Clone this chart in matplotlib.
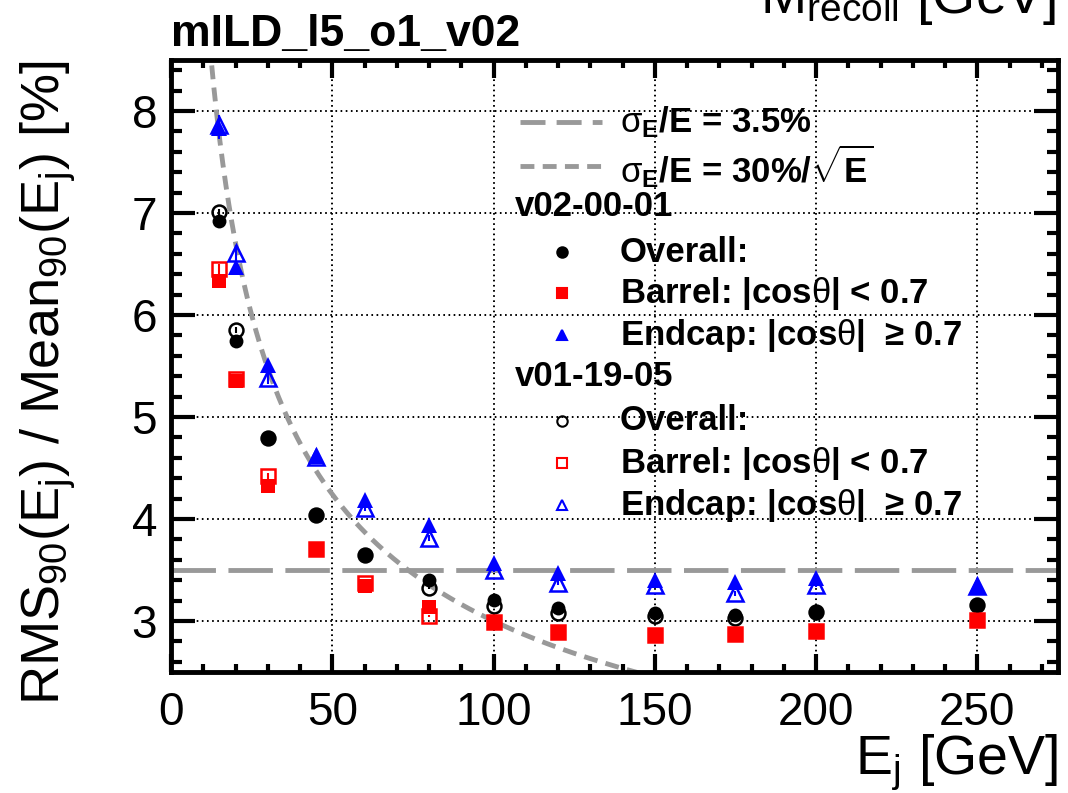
import numpy as np
import matplotlib
matplotlib.use("Agg")
import matplotlib.pyplot as plt

plt.rcParams['font.family'] = ['Liberation Sans', 'DejaVu Sans']
plt.rcParams['mathtext.fontset'] = 'custom'
plt.rcParams['mathtext.rm'] = 'Liberation Sans'
plt.rcParams['mathtext.it'] = 'Liberation Sans:italic'
plt.rcParams['mathtext.bf'] = 'Liberation Sans:bold'
plt.rcParams['lines.scale_dashes'] = False

# jet energies [GeV]
energy = [15, 20, 30, 45, 60, 80, 100, 120, 150, 175, 200, 250]

# RMS90/Mean90 [%], v02-00-01
v02_overall = [6.92, 5.75, 4.79, 4.04, 3.65, 3.40, 3.21, 3.13, 3.08, 3.06, 3.09, 3.16]
v02_barrel = [6.33, 5.35, 4.32, 3.71, 3.34, 3.14, 2.99, 2.89, 2.86, 2.87, 2.90, 3.00]
v02_endcap = [7.83, 6.47, 5.51, 4.62, 4.19, 3.94, 3.57, 3.47, 3.40, 3.38, 3.42, 3.34]

# RMS90/Mean90 [%], v01-19-05
v01_overall = [7.01, 5.85, 4.79, 4.04, 3.65, 3.32, 3.15, 3.08, 3.05, 3.03, 3.09, 3.16]
v01_barrel = [6.45, 5.37, 4.42, 3.71, 3.37, 3.05, 2.99, 2.89, 2.86, 2.87, 2.90, 3.01]
v01_endcap = [7.86, 6.61, 5.38, 4.61, 4.11, 3.81, 3.50, 3.37, 3.35, 3.27, 3.35, 3.34]

# small statistical errors (visible only at low energy)
err_overall = [0.03, 0.03, 0.02, 0.02, 0.01, 0.01, 0.01, 0.01, 0.01, 0.01, 0.01, 0.01]
err_barrel = [0.05, 0.04, 0.03, 0.02, 0.02, 0.01, 0.01, 0.01, 0.01, 0.01, 0.01, 0.01]
err_endcap = [0.10, 0.08, 0.06, 0.04, 0.03, 0.03, 0.02, 0.02, 0.02, 0.02, 0.02, 0.02]

constant_term = 3.5      # sigma_E/E = 3.5%
stochastic_term = 30.0   # sigma_E/E = 30%/sqrt(E)

W, H = 1068, 793
fig = plt.figure(figsize=(W / 100, H / 100), dpi=100)
ax_l, ax_r, ax_t, ax_b = 171, 1058, 60, 672
ax = fig.add_axes([ax_l / W, (H - ax_b) / H, (ax_r - ax_l) / W, (ax_b - ax_t) / H])

ax.set_xlim(0, 275)
ax.set_ylim(2.5, 8.5)

gray = '#999999'
ax.axhline(constant_term, color=gray, lw=3.5, dashes=(32, 9), zorder=2)
e_curve = np.linspace(10, 150, 300)
ax.plot(e_curve, stochastic_term / np.sqrt(e_curve), color=gray, lw=3.5,
        dashes=(10, 6), zorder=2)

ms_c, ms_s, ms_t = 10, 9.5, 11
# older version: open markers
ax.errorbar(energy, v01_overall, yerr=err_overall, fmt='o', ms=ms_c, mfc='none',
            mec='black', mew=1.8, ecolor='black', elinewidth=1.5, capsize=0, zorder=3)
ax.errorbar(energy, v01_barrel, yerr=err_barrel, fmt='s', ms=ms_s, mfc='none',
            mec='red', mew=1.8, ecolor='red', elinewidth=1.5, capsize=0, zorder=3)
ax.errorbar(energy, v01_endcap, yerr=err_endcap, fmt='^', ms=ms_t, mfc='none',
            mec='blue', mew=1.8, ecolor='blue', elinewidth=1.5, capsize=0, zorder=3)
# new version: filled markers
ax.errorbar(energy, v02_overall, yerr=err_overall, fmt='o', ms=ms_c, color='black',
            mew=0, elinewidth=1.5, capsize=0, zorder=4)
ax.errorbar(energy, v02_barrel, yerr=err_barrel, fmt='s', ms=ms_s, color='red',
            mew=0, elinewidth=1.5, capsize=0, zorder=4)
ax.errorbar(energy, v02_endcap, yerr=err_endcap, fmt='^', ms=ms_t, color='blue',
            mew=0, elinewidth=1.5, capsize=0, zorder=4)

# axes style, ROOT like
ax.set_xticks([0, 50, 100, 150, 200, 250])
ax.set_xticks(np.arange(0, 276, 10), minor=True)
ax.set_yticks([3, 4, 5, 6, 7, 8])
ax.set_yticks(np.arange(2.6, 8.5, 0.2), minor=True)
ax.grid(True, which='major', color='black', ls=(0, (1.2, 2.5)), lw=1.4, zorder=1)
for sp in ax.spines.values():
    sp.set_linewidth(3.5)
ax.tick_params(which='both', direction='in', top=True, right=True, width=3,
               labelsize=33)
ax.tick_params(axis='x', which='major', length=13, pad=14)
ax.tick_params(axis='x', which='minor', length=6)
ax.tick_params(axis='y', which='major', length=17, pad=10)
ax.tick_params(axis='y', which='minor', length=8)

# legend drawn by hand in axes coordinates
def fx(px):
    return (px - ax_l) / (ax_r - ax_l)

def fy(py):
    return (ax_b - py) / (ax_b - ax_t)

tr = ax.transAxes
lfs = 25
ax.plot([fx(520), fx(602)], [fy(122), fy(122)], transform=tr, color=gray, lw=3.5,
        dashes=(18, 8), clip_on=False, zorder=5)
ax.text(fx(620), fy(122), r"$\mathrm{\sigma}_{\mathbf{E}}$/E = 3.5%", transform=tr,
        fontsize=lfs, weight='bold', va='center', zorder=5)
ax.plot([fx(520), fx(602)], [fy(166), fy(166)], transform=tr, color=gray, lw=3.5,
        dashes=(10, 6), clip_on=False, zorder=5)
ax.text(fx(620), fy(166), r"$\mathrm{\sigma}_{\mathbf{E}}$/E = 30%/$\sqrt{\mathbf{E}}$",
        transform=tr, fontsize=lfs, weight='bold', va='center', zorder=5)

rows = [
    (207, "v02-00-01", None),
    (252, "Overall:", ('o', 'black', True)),
    (293, r"Barrel: |cos$\mathrm{\theta}$| < 0.7", ('s', 'red', True)),
    (335, r"Endcap: |cos$\mathrm{\theta}$|  ≥ 0.7", ('^', 'blue', True)),
    (377, "v01-19-05", None),
    (421, "Overall:", ('o', 'black', False)),
    (463, r"Barrel: |cos$\mathrm{\theta}$| < 0.7", ('s', 'red', False)),
    (505, r"Endcap: |cos$\mathrm{\theta}$|  ≥ 0.7", ('^', 'blue', False)),
]
for py, label, mk in rows:
    if mk is None:
        ax.text(fx(515), fy(py), label, transform=tr, fontsize=lfs, weight='bold',
                va='center', zorder=5)
        continue
    m, c, filled = mk
    ax.plot([fx(562)], [fy(py)], transform=tr, marker=m, ms=7.5,
            mfc=c if filled else 'none', mec=c, mew=1.5, ls='none', zorder=5)
    ax.text(fx(620), fy(py), label, transform=tr, fontsize=lfs, weight='bold',
            va='center', zorder=5)

# labels
fig.text(ax_r / W, 1 - 774 / H, r"E$_{\mathrm{j}}$ [GeV]", fontsize=40,
         ha='right', va='baseline')
fig.text(48 / W, 1 - ax_t / H,
         r"RMS$_{90}$(E$_{\mathrm{j}}$) / Mean$_{90}$(E$_{\mathrm{j}}$) [%]",
         fontsize=39, rotation=90, ha='center', va='top')
fig.text(ax_l / W, 1 - 46 / H, "mILD_l5_o1_v02", fontsize=32, weight='bold',
         ha='left', va='baseline')
fig.text(1056 / W, 1 - 13 / H, r"M$_{\mathrm{recoil}}$ [GeV]", fontsize=40,
         ha='right', va='baseline')

fig.savefig("out.png", dpi=100)
